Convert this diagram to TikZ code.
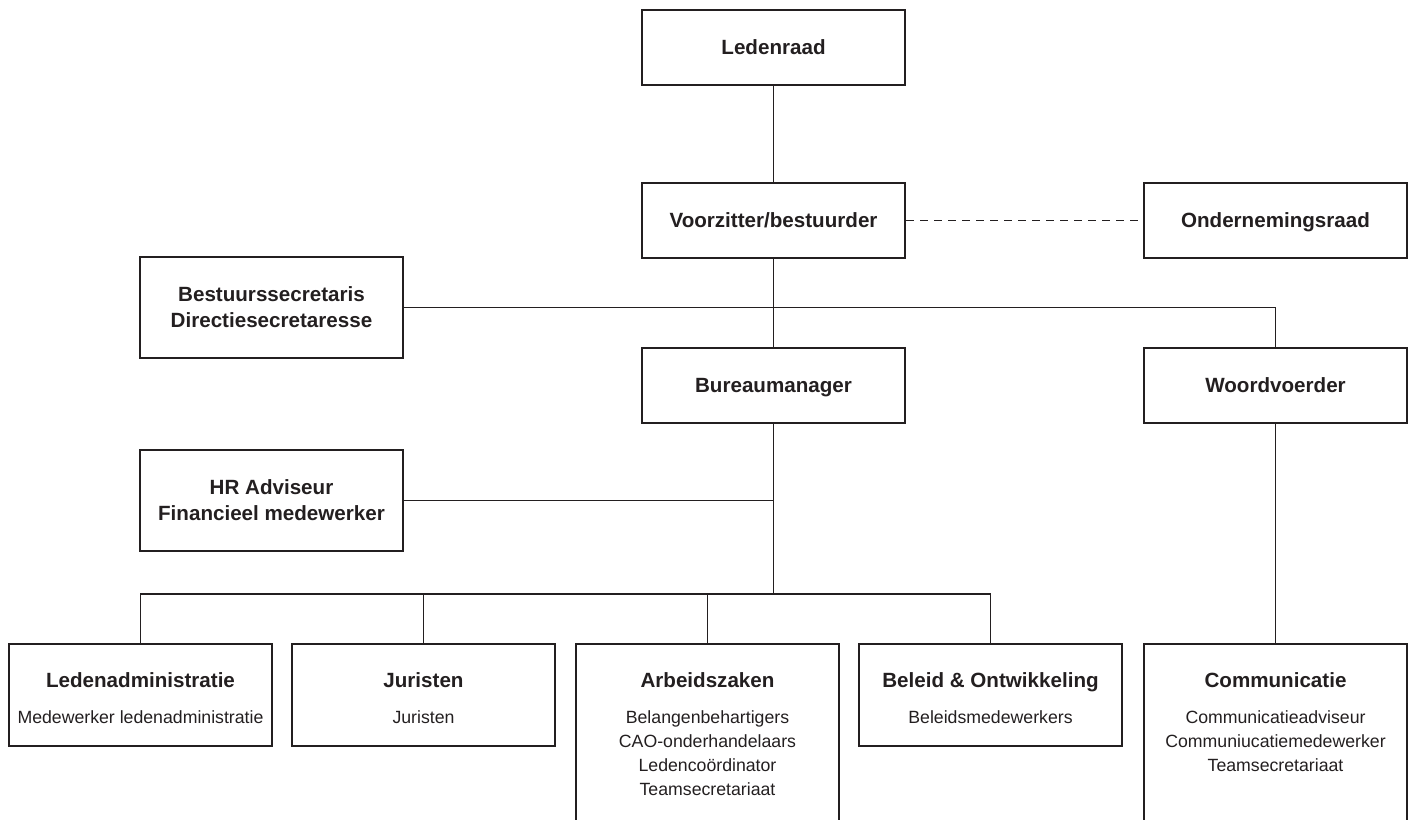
\documentclass[tikz,border=0pt]{standalone}
\usepackage{fontspec}
\setmainfont{Liberation Sans}
\usetikzlibrary{positioning}
\definecolor{ink}{HTML}{231F20}

\begin{document}
\begin{tikzpicture}[x=0.5pt,y=-0.5pt,
    box/.style={draw=ink, line width=1.1pt, minimum width=131.5pt, minimum height=37.5pt,
      inner sep=0pt, text=ink, align=center, text height=7.4pt, text depth=0pt,
      font=\bfseries\fontsize{10.3}{13}\selectfont},
    sidebox/.style={box, minimum height=50.5pt, text height=, text depth=},
    unitbox/.style={draw=ink, line width=1.1pt, minimum width=131.5pt, minimum height=51pt,
      inner sep=0pt, anchor=north},
    head/.style={text=ink, inner sep=0pt, text height=7.4pt, text depth=0pt,
      font=\bfseries\fontsize{10.3}{13}\selectfont},
    staff/.style={text=ink, inner sep=0pt, align=center, anchor=north,
      font=\fontsize{8.85}{12}\selectfont},
    link/.style={draw=ink, line width=0.9pt}]
  \useasboundingbox (0,0) rectangle (1413,819);
  \clip (0,0) rectangle (1413,819);

  % top
  \node[box] (ledenraad) at (773.5,47.5) {Ledenraad};
  \node[box] (voorzitter) at (773.5,220.5) {Voorzitter/bestuurder};
  \node[box] (or) at (1275.5,220.5) {Ondernemingsraad};
  \node[sidebox] (secretaris) at (271.5,307.5) {Bestuurssecretaris\\Directiesecretaresse};
  \node[box] (bureau) at (773.5,385.5) {Bureaumanager};
  \node[box] (woordvoerder) at (1275.5,385.5) {Woordvoerder};
  \node[sidebox] (hr) at (271.5,500.5) {HR Adviseur\\Financieel medewerker};
  \coordinate (bus) at (773.5,594);

  % afdelingen
  \node[unitbox] (ledenadm) at (140.5,643) {};
  \node[unitbox] (juristen) at (423.5,643) {};
  \node[unitbox, minimum height=100pt] (arbeid) at (707.5,643) {};
  \node[unitbox] (beleid) at (990.5,643) {};
  \node[unitbox, minimum height=100pt] (communicatie) at (1275.5,643) {};

  \node[head] (ledenadmkop) at (140.5,680) {Ledenadministratie};
  \node[head] (juristenkop) at (423.5,680) {Juristen};
  \node[head] (arbeidkop) at (707.5,680) {Arbeidszaken};
  \node[head] (beleidkop) at (990.5,680) {Beleid \& Ontwikkeling};
  \node[head] (communicatiekop) at (1275.5,680) {Communicatie};

  \node[staff] (ledenadmstaf) at (140.5,710) {Medewerker ledenadministratie};
  \node[staff] (juristenstaf) at (423.5,710) {Juristen};
  \node[staff] (arbeidstaf) at (707.5,710) {Belangenbehartigers\\CAO-onderhandelaars\\Ledencoördinator\\Teamsecretariaat};
  \node[staff] (beleidstaf) at (990.5,710) {Beleidsmedewerkers};
  \node[staff] (communicatiestaf) at (1275.5,710) {Communicatieadviseur\\Communiucatiemedewerker\\Teamsecretariaat};

  % lijnen
  \draw[link] (ledenraad) -- (voorzitter);
  \draw[link, dash pattern=on 4pt off 3pt] (voorzitter) -- (or);
  \draw[link] (voorzitter) -- (bureau);
  \draw[link] (secretaris.east) -| (woordvoerder.north);
  \draw[link] (bureau) -- (bus);
  \draw[link] (hr.east) -- (hr.east -| bus);
  \draw[link] (ledenadm.north) |- (beleid.north |- bus) -- (beleid.north);
  \draw[link] (juristen.north) -- (juristen.north |- bus);
  \draw[link] (arbeid.north) -- (arbeid.north |- bus);
  \draw[link] (woordvoerder) -- (communicatie);
\end{tikzpicture}
\end{document}
